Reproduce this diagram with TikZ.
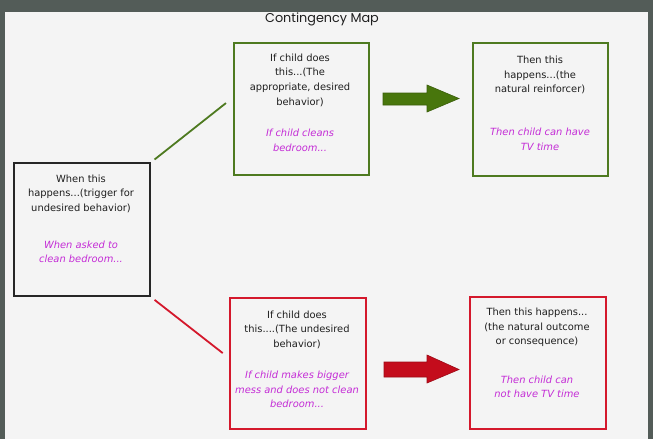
\documentclass[tikz,border=0pt]{standalone}
\usepackage{fontspec}
\setmainfont{DejaVu Sans}
\newfontfamily\titlefont{Poppins}
\definecolor{frame}{RGB}{83,92,88}
\definecolor{paper}{RGB}{244,244,244}
\definecolor{gbox}{RGB}{78,122,32}
\definecolor{garrow}{RGB}{72,118,12}
\definecolor{rbox}{RGB}{212,24,44}
\definecolor{rarrow}{RGB}{196,12,28}
\definecolor{mag}{RGB}{196,44,214}
\definecolor{ink}{RGB}{30,30,30}
\tikzset{
  box/.style={draw, line width=2.4pt, minimum width=#1, inner sep=0pt, anchor=north west},
  txt/.style={align=center, text=ink, font=\fontsize{9.9}{14.6}\selectfont, inner sep=0pt},
  itx/.style={align=center, text=mag, font=\fontsize{9.9}{14.6}\selectfont\itshape, inner sep=0pt},
  lnk/.style={line width=1.8pt}
}
\begin{document}
\begin{tikzpicture}[x=1pt,y=-1pt]
\useasboundingbox (0,0) rectangle (653,439);
\fill[frame] (0,0) rectangle (653,439);
\fill[paper] (5,12) rectangle (648,439);
\node[font=\titlefont\fontsize{12.8}{14}\selectfont, text=ink] (title) at (322,19) {Contingency Map};
% boxes
\node[box=136pt, draw=black!85, minimum height=133pt] (trig) at (13,162) {};
\node[box=135pt, draw=gbox, minimum height=132pt] (gdo) at (233,42) {};
\node[box=135pt, draw=gbox, minimum height=133pt] (gthen) at (472,42) {};
\node[box=136pt, draw=rbox, minimum height=131pt] (rdo) at (229,297) {};
\node[box=136pt, draw=rbox, minimum height=132pt] (rthen) at (469,296) {};
% texts
\node[txt] (t1) at (81,193.5) {When this\\happens...(trigger for\\undesired behavior)};
\node[itx] (i1) at (81,252) {When asked to\\clean bedroom...};
\node[txt] (t2) at (300,80) {If child does\\this...(The\\appropriate, desired\\behavior)};
\node[itx] (i2) at (300,140.5) {If child cleans\\bedroom...};
\node[txt] (t3) at (540,75) {Then this\\happens...(the\\natural reinforcer)};
\node[itx] (i3) at (540,139.5) {Then child can have\\TV time};
\node[txt] (t4) at (297,329.5) {If child does\\this....(The undesired\\behavior)};
\node[itx] (i4) at (297,389.5) {If child makes bigger\\mess and does not clean\\bedroom...};
\node[txt] (t5) at (537,327.5) {Then this happens...\\(the natural outcome\\or consequence)};
\node[itx] (i5) at (537,387) {Then child can\\not have TV time};
% connectors
\coordinate (gend) at (233,97.5);
\coordinate (rend) at (229,358);
\draw[lnk, gbox, shorten <=4pt, shorten >=9pt] (trig.north east) -- (gend);
\draw[lnk, rbox, shorten <=4pt, shorten >=8pt] (trig.south east) -- (rend);
% block arrows
\filldraw[fill=garrow, draw=garrow!80!black, line width=0.6pt]
  (383,93) -- (427,93) -- (427,85) -- (459,98.5) -- (427,112) -- (427,105) -- (383,105) -- cycle;
\filldraw[fill=rarrow, draw=rarrow!80!black, line width=0.6pt]
  (384,362) -- (427,362) -- (427,355) -- (459,369.5) -- (427,383) -- (427,377) -- (384,377) -- cycle;
\end{tikzpicture}
\end{document}
